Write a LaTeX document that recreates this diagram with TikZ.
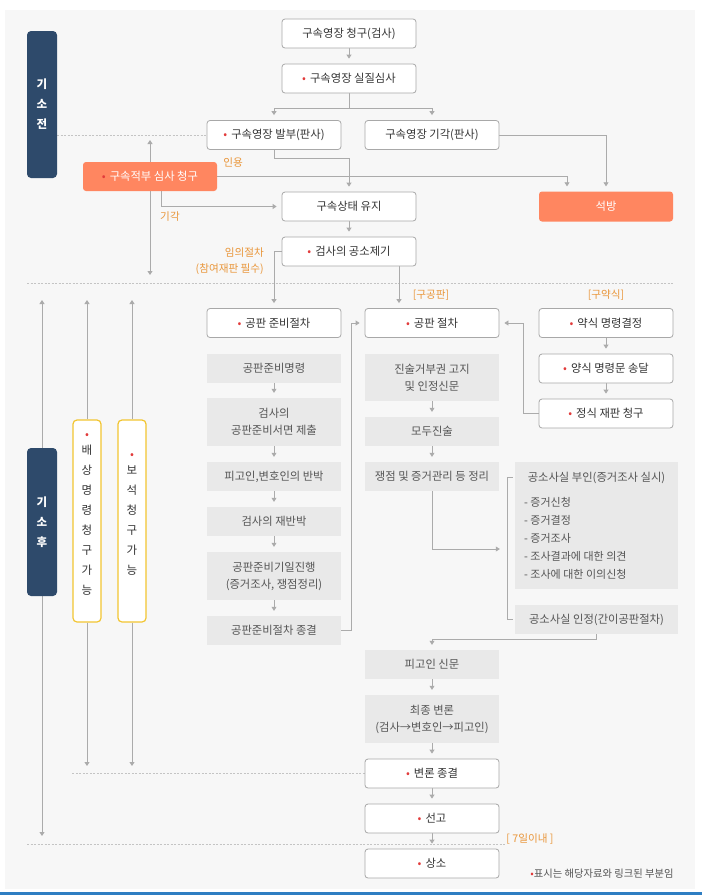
\documentclass[tikz,border=0pt]{standalone}
\usepackage{fontspec}
\setmainfont{Noto Sans CJK KR}
\usetikzlibrary{arrows.meta,calc}
\pgfdeclarelayer{back}
\pgfdeclarelayer{bg}
\pgfsetlayers{back,bg,main}
\definecolor{panelbg}{HTML}{F7F7F7}
\definecolor{boxborder}{HTML}{A8A8A8}
\definecolor{graybox}{HTML}{E9E9E9}
\definecolor{orangebox}{HTML}{FF8660}
\definecolor{navy}{HTML}{2E4A6B}
\definecolor{yellowborder}{HTML}{F2C531}
\definecolor{labelorange}{HTML}{E9963A}
\definecolor{reddot}{HTML}{E23B3B}
\definecolor{linegray}{HTML}{ABABAB}
\definecolor{textdark}{HTML}{333333}
\definecolor{textgray}{HTML}{555555}
\definecolor{dashgray}{HTML}{C4C4C4}
\definecolor{bluebar}{HTML}{2F7EC2}
\newcommand\fmain{\fontsize{11.3pt}{17pt}\selectfont}
\newcommand\flbl{\fontsize{10.6pt}{16pt}\selectfont}
\newcommand\rdot{\textcolor{reddot}{•}\hspace{4pt}}
\begin{document}
\begin{tikzpicture}[x=1pt,y=-1pt,
  wbox/.style={draw=boxborder, fill=white, rounded corners=3pt, line width=0.8pt,
    minimum width=134pt, minimum height=29pt, inner sep=0pt, text=textdark, font=\fmain, align=center},
  gbox/.style={fill=graybox, minimum width=134pt, minimum height=29pt, inner sep=0pt,
    text=textgray, font=\fmain, align=center},
  obox/.style={fill=orangebox, rounded corners=3pt, minimum width=134pt, minimum height=29pt,
    inner sep=0pt, text=white, font=\fmain},
  nbox/.style={fill=navy, rounded corners=4pt, minimum width=30pt, minimum height=147pt,
    inner sep=0pt, text=white, font=\fontsize{11.5pt}{20pt}\selectfont\bfseries, align=center},
  ybox/.style={draw=yellowborder, fill=white, rounded corners=4pt, line width=1.2pt,
    minimum width=28pt, minimum height=202pt, inner sep=0pt},
  vtext/.style={text=textdark, font=\fontsize{11.5pt}{19.9pt}\selectfont, align=center, inner sep=0pt},
  gtext/.style={text=textgray, font=\fmain, inner sep=0pt},
  lbl/.style={text=labelorange, font=\flbl, inner sep=0pt},
  foot/.style={text=textgray, font=\fontsize{10.3pt}{14pt}\selectfont, inner sep=0pt},
  line/.style={draw=linegray, line width=0.8pt},
  arr/.style={line, -{Triangle[length=4pt,width=5pt]}, shorten >=5pt},
  arr0/.style={line, -{Triangle[length=4pt,width=5pt]}},
  darr/.style={line, {Triangle[length=4pt,width=5pt]}-{Triangle[length=4pt,width=5pt]}},
  dline/.style={draw=dashgray, line width=0.6pt, dash pattern=on 2pt off 1.5pt}]
\useasboundingbox (0,0) rectangle (702,895);
\begin{pgfonlayer}{back}
\fill[white] (0,0) rectangle (702,895);
\fill[panelbg] (5,10) rectangle (695,889);
\fill[bluebar] (0,892) rectangle (702,895);
\end{pgfonlayer}

% pre-indictment
\node[wbox] (n1) at (349,33.5) {구속영장 청구(검사)};
\node[wbox] (n2) at (349,78.5) {\rdot 구속영장 실질심사};
\node[wbox] (n3) at (274,135) {\rdot 구속영장 발부(판사)};
\node[wbox] (n4) at (432,135) {구속영장 기각(판사)};
\node[obox] (n5) at (150,176.5) {\rdot 구속적부 심사 청구};
\node[wbox] (n6) at (349,206.5) {구속상태 유지};
\node[wbox] (n7) at (349,251.5) {\rdot 검사의 공소제기};
\node[obox, minimum height=30pt] (n8) at (606,206.5) {석방};

\node[nbox] (g1) at (42,104.5) {기\\소\\전};
\node[nbox, minimum height=148pt] (g2) at (42,522) {기\\소\\후};

\node[ybox] (e1) at (87,521) {};
\node[ybox] (e2) at (132,521) {};
\node[vtext] (t1) at (87,514.5) {\textcolor{reddot}{•}\\[-4pt]배\\상\\명\\령\\청\\구\\가\\능};
\node[vtext] (t2) at (132,514.5) {\textcolor{reddot}{•}\\[-4pt]보\\석\\청\\구\\가\\능};

% preparatory procedure column
\node[wbox] (a0) at (274,323) {\rdot 공판 준비절차};
\node[gbox] (a1) at (274,368.5) {공판준비명령};
\node[gbox, minimum height=48pt] (a2) at (274,422) {검사의\\공판준비서면 제출};
\node[gbox] (a3) at (274,476.5) {피고인,변호인의 반박};
\node[gbox] (a4) at (274,521.5) {검사의 재반박};
\node[gbox, minimum height=48pt] (a5) at (274,576) {공판준비기일진행\\(증거조사, 쟁점정리)};
\node[gbox] (a6) at (274,630.5) {공판준비절차 종결};

% trial column
\node[wbox] (b0) at (432,323) {\rdot 공판 절차};
\node[gbox, minimum height=47pt] (b1) at (432,377.5) {진술거부권 고지\\및 인정신문};
\node[gbox] (b2) at (432,431.5) {모두진술};
\node[gbox] (b3) at (432,476.5) {쟁점 및 증거관리 등 정리};
\node[gbox] (b4) at (432,664.5) {피고인 신문};
\node[gbox, minimum height=48pt] (b5) at (432,719) {최종 변론\\(검사→변호인→피고인)};
\node[wbox] (b6) at (432,773.5) {\rdot 변론 종결};
\node[wbox] (b7) at (432,818.5) {\rdot 선고};
\node[wbox] (b8) at (432,863.5) {\rdot 상소};

% summary column
\node[wbox] (c0) at (606,323) {\rdot 약식 명령결정};
\node[wbox] (c1) at (606,368.5) {\rdot 양식 명령문 송달};
\node[wbox] (c2) at (606,413.5) {\rdot 정식 재판 청구};

% evidence boxes
\node[gbox, minimum width=163pt, minimum height=127pt] (d1) at (596.5,525.5) {};
\node[gtext] (d1t) at (596.5,478) {공소사실 부인(증거조사 실시)};
\node[gtext, anchor=west, align=left, font=\fontsize{11pt}{18pt}\selectfont] (d1l) at (524,538)
  {- 증거신청\\- 증거결정\\- 증거조사\\- 조사결과에 대한 의견\\- 조사에 대한 이의신청};
\node[gbox, minimum width=163pt] (d2) at (596.5,619.5) {공소사실 인정(간이공판절차)};

% labels
\node[lbl] (l1) at (233,163) {인용};
\node[lbl] (l2) at (170,217) {기각};
\node[lbl, anchor=east, align=right] (l3) at (264,261.5) {임의절차\\(참여재판 필수)};
\node[lbl] (l5) at (431,295) {[구공판]};
\node[lbl] (l6) at (606,295) {[구약식]};
\node[lbl] (l7) at (530,839) {[ 7일이내 ]};
\node[foot] (f1) at (602,874) {\textcolor{reddot}{•}표시는 해당자료와 링크된 부분임};

% free-end coordinates
\coordinate (j1) at (349,108);
\coordinate (j2) at (349,158);
\coordinate (k1) at (567,176.5);
\coordinate (v1t) at (150,140);
\coordinate (v1b) at (150,275);
\coordinate (v2t) at (42,300);
\coordinate (v2b) at (42,836);
\coordinate (v3t) at (87,300);
\coordinate (v3b) at (87,766);
\coordinate (v4t) at (132,300);
\coordinate (v4b) at (132,766);
\coordinate (h1) at (27,283);
\coordinate (h2) at (673,283);
\coordinate (h3) at (27,844);
\coordinate (h4) at (505,844);

\begin{pgfonlayer}{bg}
% dashed separators
\draw[dline] (g1.east |- n3.west) -- (n3.west);
\draw[dline] (h1) -- (h2);
\draw[dline] (e1.west |- b6.west) -- (b6.west);
\draw[dline] (h3) -- (h4);
% top flow
\draw[arr] (n1) -- (n2);
\draw[line] (n2.south) -- (j1);
\draw[arr] (j1) -| (n3.north);
\draw[arr] (j1) -| (n4.north);
\draw[arr] (n3.south) |- (j2) -- (n6.north);
\draw[arr] (n5.east) -- (k1) -- (k1 |- n8.north);
\draw[arr] (n4.east) -| (n8.north);
\draw[arr] ([xshift=11pt]n5.south) |- (n6.west);
\draw[arr] (n6) -- (n7);
\draw[arr] (n7.west) -| (a0.north);
\draw[arr] ($(n7.south)+(50,0)$) -- ($(n7.south |- b0.north)+(50,0)$);
% side arrows
\draw[darr] (v1t) -- (v1b);
\draw[darr] (v2t) -- (v2b);
\draw[arr0] (e1.north) -- (v3t);
\draw[arr0] (e1.south) -- (v3b);
\draw[arr0] (e2.north) -- (v4t);
\draw[arr0] (e2.south) -- (v4b);
% preparatory column
\draw[arr] (a1) -- (a2);
\draw[arr] (a2) -- (a3);
\draw[arr] (a3) -- (a4);
\draw[arr] (a4) -- (a5);
\draw[arr] (a5) -- (a6);
\draw[arr] (a6.east) -- ++(10,0) |- (b0.west);
% summary column
\draw[arr] (c0) -- (c1);
\draw[arr] (c1) -- (c2);
\draw[arr] (c2.west) -- ++(-15,0) |- (b0.east);
% trial column
\draw[arr] (b1) -- (b2);
\draw[arr] (b2) -- (b3);
\draw[arr, shorten >=15pt] (b3.south) |- ($(d1.west)+(0,23.5)$);
\draw[line] ($(d1.north west)+(-2,16)$) -- ++(-5,0) |- ($(d2.west)+(-2,0)$);
\draw[arr] (d2.south) -- ++(0,5) -| (b4.north);
\draw[arr] (b4) -- (b5);
\draw[arr] (b5) -- (b6);
\draw[arr] (b6) -- (b7);
\draw[arr] (b7) -- (b8);
\end{pgfonlayer}
\end{tikzpicture}
\end{document}
